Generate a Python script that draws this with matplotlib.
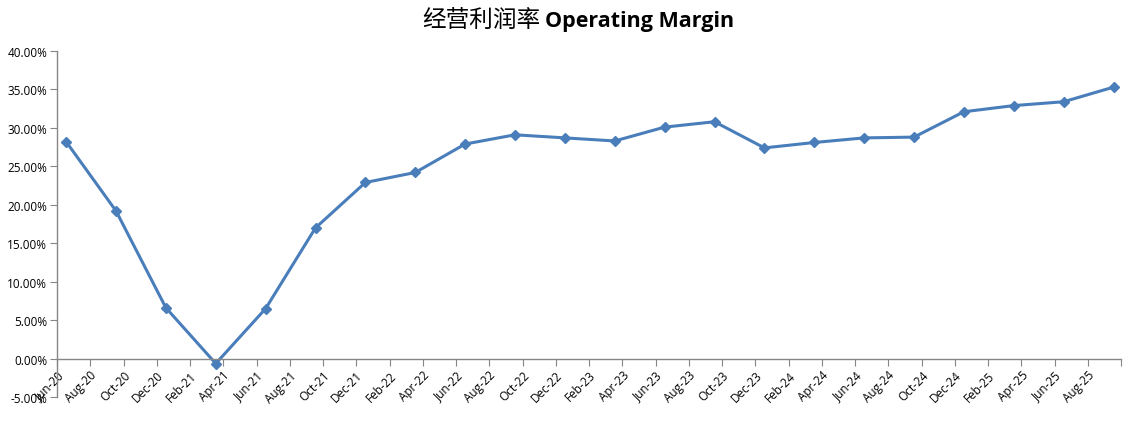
import matplotlib
matplotlib.use('Agg')
import matplotlib.pyplot as plt
import matplotlib.transforms as mtransforms
from matplotlib.ticker import FuncFormatter

# quarterly operating margin (%), Jun-20 .. Sep-25
quarters = ['Jun-20', 'Sep-20', 'Dec-20', 'Mar-21', 'Jun-21', 'Sep-21', 'Dec-21', 'Mar-22',
            'Jun-22', 'Sep-22', 'Dec-22', 'Mar-23', 'Jun-23', 'Sep-23', 'Dec-23', 'Mar-24',
            'Jun-24', 'Sep-24', 'Dec-24', 'Mar-25', 'Jun-25', 'Sep-25']
margin = [28.2, 19.2, 6.6, -0.65, 6.5, 17.0, 22.9, 24.2,
          27.9, 29.1, 28.7, 28.3, 30.1, 30.8, 27.4, 28.1,
          28.7, 28.8, 32.1, 32.9, 33.4, 35.3]
# month offset of each quarter point from Jun-20
month_pos = [0.55 + 3 * i for i in range(len(quarters))]

# x tick labels, every two months
tick_labels = ['Jun-20', 'Aug-20', 'Oct-20', 'Dec-20', 'Feb-21', 'Apr-21', 'Jun-21', 'Aug-21',
               'Oct-21', 'Dec-21', 'Feb-22', 'Apr-22', 'Jun-22', 'Aug-22', 'Oct-22', 'Dec-22',
               'Feb-23', 'Apr-23', 'Jun-23', 'Aug-23', 'Oct-23', 'Dec-23', 'Feb-24', 'Apr-24',
               'Jun-24', 'Aug-24', 'Oct-24', 'Dec-24', 'Feb-25', 'Apr-25', 'Jun-25', 'Aug-25', '']
tick_pos = [2 * i for i in range(len(tick_labels))]

fig = plt.figure(figsize=(11.41, 4.27), dpi=100)
ax = fig.add_axes([57 / 1141, 1 - 398 / 427, (1121 - 57) / 1141, (398 - 52) / 427])

ax.plot(month_pos, margin, color='#4A7EBB', lw=2.2, marker='D', ms=5.5,
        markerfacecolor='#4A7EBB', markeredgecolor='#4A7EBB', clip_on=False)

ax.set_xlim(0, 64)
ax.set_ylim(-5, 40)
ax.set_yticks(range(-5, 41, 5))
ax.yaxis.set_major_formatter(FuncFormatter(lambda v, p: '%.2f%%' % v))

ax.spines['top'].set_visible(False)
ax.spines['right'].set_visible(False)
ax.spines['bottom'].set_position(('data', 0))
for s in ['left', 'bottom']:
    ax.spines[s].set_color('#868686')
    ax.spines[s].set_linewidth(1.0)

ax.set_xticks(tick_pos)
ax.set_xticklabels(tick_labels, rotation=45, ha='right', rotation_mode='anchor',
                   fontsize=8.5, family='Open Sans')
offset = mtransforms.ScaledTranslation(10 / 100, -3 / 100, fig.dpi_scale_trans)
for lab in ax.get_xticklabels():
    lab.set_transform(lab.get_transform() + offset)
ax.tick_params(axis='x', direction='out', length=5, color='#868686', pad=2)
ax.tick_params(axis='y', direction='out', length=5, color='#868686', labelsize=8.5, pad=2)
for lab in ax.get_yticklabels():
    lab.set_family('Open Sans')

fig.text(0.474, 0.950, '经营利润率', ha='right', va='center', fontsize=17,
         family=['Noto Sans CJK SC', 'DejaVu Sans'])
fig.text(0.478, 0.950, 'Operating Margin', ha='left', va='center', fontsize=15.5,
         fontweight='bold', family='Open Sans')

fig.savefig('out.png', dpi=100)
